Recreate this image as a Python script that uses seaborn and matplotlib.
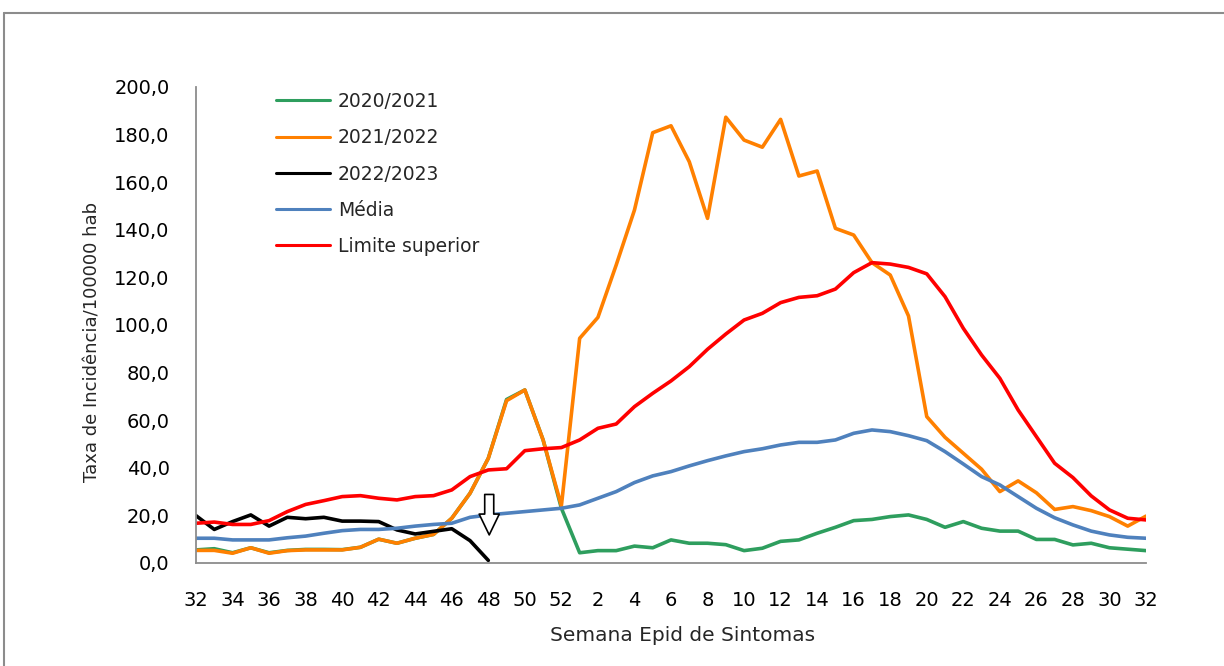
import numpy as np
import pandas as pd
import matplotlib
matplotlib.use("Agg")
import matplotlib.pyplot as plt
from matplotlib.lines import Line2D
from matplotlib.ticker import FuncFormatter, FixedLocator
import seaborn as sns

# ---- data ----
semanas = list(range(32, 53)) + list(range(1, 33))

s2020_2021 = [5.5, 6.0, 4.3, 6.4, 4.3, 5.3, 5.7, 5.7, 5.6, 6.6, 10.0, 8.3, 10.4, 12.0, 18.8, 29.3,
              44.0, 68.7, 72.7, 51.7, 23.0, 4.3, 5.2, 5.2, 7.1, 6.4, 9.7, 8.3, 8.3, 7.7, 5.2, 6.2,
              9.1, 9.7, 12.5, 15.0, 17.8, 18.3, 19.5, 20.2, 18.3, 15.0, 17.4, 14.6, 13.4, 13.4,
              9.9, 9.9, 7.6, 8.3, 6.4, 5.8, 5.2]
s2021_2022 = [5.3, 5.3, 4.1, 6.4, 4.1, 5.2, 5.5, 5.5, 5.5, 6.6, 10.0, 8.3, 10.4, 12.0, 18.8, 29.3,
              44.0, 68.2, 72.7, 51.7, 24.0, 94.4, 103.2, 125.2, 148.3, 180.8, 183.7, 168.6, 144.8,
              187.3, 177.7, 174.7, 186.4, 162.6, 164.7, 140.6, 137.8, 126.2, 121.0, 103.8, 61.5,
              52.8, 46.1, 39.4, 30.0, 34.5, 29.5, 22.5, 23.7, 22.0, 19.5, 15.5, 19.7]
s2022_2023 = [19.9, 14.1, 17.4, 20.2, 15.5, 19.2, 18.6, 19.2, 17.6, 17.6, 17.4, 13.9, 12.2, 13.3,
              14.4, 9.4, 1.1]
media = [10.4, 10.4, 9.7, 9.7, 9.7, 10.6, 11.3, 12.5, 13.6, 14.1, 14.1, 14.6, 15.5, 16.2, 16.7,
         19.2, 20.2, 20.9, 21.6, 22.3, 23.0, 24.4, 27.2, 30.0, 33.8, 36.6, 38.4, 40.8, 43.0, 45.0,
         46.8, 48.0, 49.6, 50.7, 50.7, 51.7, 54.5, 55.9, 55.2, 53.5, 51.4, 46.8, 41.6, 36.3, 32.8,
         27.9, 23.0, 19.0, 16.0, 13.4, 11.8, 10.8, 10.4]
limite_superior = [16.7, 17.2, 16.2, 16.2, 17.8, 21.6, 24.6, 26.2, 27.9, 28.3, 27.2, 26.5, 27.9,
                   28.3, 30.7, 36.3, 39.1, 39.6, 47.2, 48.0, 48.5, 51.7, 56.6, 58.4, 65.7, 71.3,
                   76.5, 82.5, 89.8, 96.2, 102.1, 104.9, 109.4, 111.6, 112.3, 115.1, 122.0, 126.2,
                   125.6, 124.2, 121.5, 111.9, 98.6, 87.4, 77.6, 64.3, 53.1, 41.9, 35.9, 28.2,
                   22.3, 18.8, 18.1]

series_names = ["2020/2021", "2021/2022", "2022/2023", "Média", "Limite superior"]
series_vals = [s2020_2021, s2021_2022, s2022_2023, media, limite_superior]
colors = ["#2E9E5E", "#FF8000", "#000000", "#4F81BD", "#FF0000"]

y_ticks = [0, 20, 40, 60, 80, 100, 120, 140, 160, 180, 200]

rows = []
for name, vals in zip(series_names, series_vals):
    for i, v in enumerate(vals):
        rows.append({"idx": i, "valor": v, "serie": name})
df = pd.DataFrame(rows)

# ---- figure ----
sns.set_style("white")
plt.rcParams["font.family"] = ["DejaVu Sans"]

W, H = 1224, 666
fig = plt.figure(figsize=(W / 100, H / 100), dpi=100)
ax = fig.add_axes([196 / W, 1 - 563 / H, 950 / W, 476 / H])

sns.lineplot(data=df, x="idx", y="valor", hue="serie", hue_order=series_names,
             palette=dict(zip(series_names, colors)), linewidth=2.6, estimator=None,
             sort=True, ax=ax, legend=True)

ax.set_xlim(0, len(semanas) - 1)
ax.set_ylim(0, 200)

# axes styling
for s in ["top", "right"]:
    ax.spines[s].set_visible(False)
for s in ["left", "bottom"]:
    ax.spines[s].set_color("#8C8C8C")
    ax.spines[s].set_linewidth(1.3)

tick_idx = [i for i, w in enumerate(semanas) if w % 2 == 0]
ax.xaxis.set_major_locator(FixedLocator(tick_idx))
ax.set_xticklabels([str(semanas[i]) for i in tick_idx])
ax.yaxis.set_major_locator(FixedLocator(y_ticks))
ax.yaxis.set_major_formatter(FuncFormatter(lambda v, p: f"{v:.1f}".replace(".", ",")))

ax.tick_params(axis="x", length=0, pad=20, labelsize=14, colors="black")
ax.tick_params(axis="y", length=6, width=1.3, color="#8C8C8C", direction="out",
               pad=13, labelsize=14, labelcolor="black")

ax.set_xlabel("Semana Epid de Sintomas", fontsize=14.5)
ax.xaxis.set_label_coords((683 - 196) / 950, -(626 - 563) / 476)
ax.set_ylabel("Taxa de Incidência/100000 hab", fontsize=13)
ax.yaxis.set_label_coords((102 - 196) / 950, (563 - 342) / 476)

# legend
new_handles = [Line2D([], [], color=c, linewidth=2.2) for c in colors]
ax.legend(new_handles, series_names, loc="upper left",
          bbox_to_anchor=(276 / W, 1 - 92 / H), bbox_transform=fig.transFigure,
          frameon=False, fontsize=13.5, handlelength=2.9, handletextpad=0.4,
          labelspacing=0.92, borderpad=0, borderaxespad=0)

# hollow arrow pointing at the last 2022/2023 point
ax.annotate("", xy=(16.05, 11.8), xytext=(16.05, 28.8),
            arrowprops=dict(arrowstyle="simple,head_length=15,head_width=14.5,tail_width=6.5",
                            mutation_scale=1, fc="white", ec="black", lw=1.2,
                            shrinkA=0, shrinkB=0))

# chart-area border (top and left edges visible)
fig.add_artist(Line2D([4 / W, 1.0], [1 - 13 / H, 1 - 13 / H], transform=fig.transFigure,
                      color="#8C8C8C", linewidth=1.5))
fig.add_artist(Line2D([4 / W, 4 / W], [0.0, 1 - 13 / H], transform=fig.transFigure,
                      color="#8C8C8C", linewidth=1.5))

fig.savefig("out.png", dpi=100)
